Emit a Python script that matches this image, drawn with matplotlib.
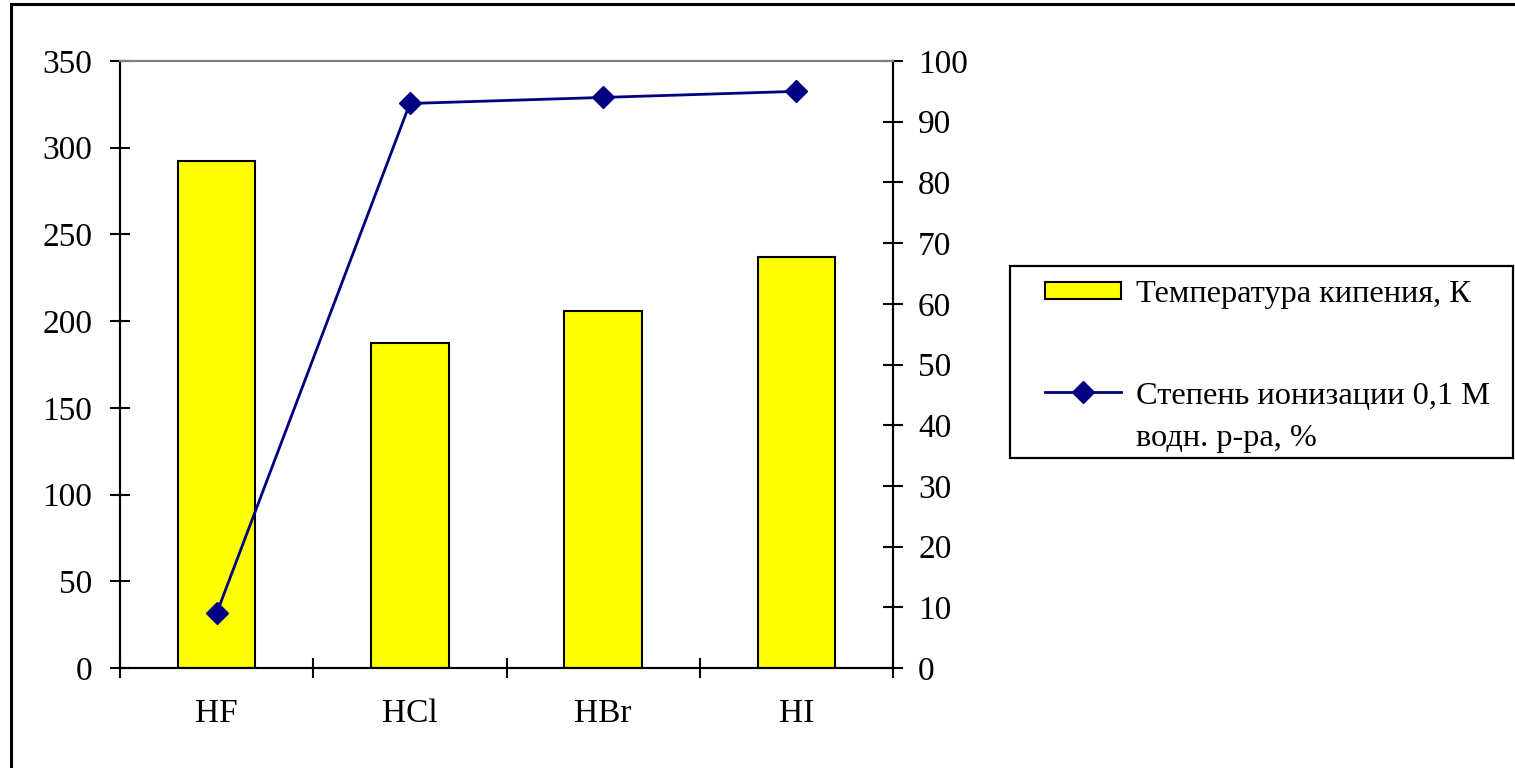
import matplotlib.pyplot as plt
from matplotlib.patches import Rectangle
from matplotlib.legend_handler import HandlerLine2D
import numpy as np

acids = ['HF', 'HCl', 'HBr', 'HI']
boiling_k = [292.4, 187.5, 206, 237]
ionization_pct = [9, 93, 94, 95]

plt.rcParams['font.family'] = ['Liberation Serif', 'DejaVu Serif']
fs = 24


class RaisedLine(HandlerLine2D):
    """Legend line handle lifted to sit beside the first line of a two-line label."""
    def __init__(self, shift, **kw):
        super().__init__(**kw)
        self.shift = shift

    def create_artists(self, legend, orig_handle, xdescent, ydescent, width,
                       height, fontsize, trans):
        arts = super().create_artists(legend, orig_handle, xdescent, ydescent,
                                      width, height, fontsize, trans)
        for a in arts:
            a.set_ydata(np.asarray(a.get_ydata()) + self.shift)
        return arts


fig = plt.figure(figsize=(15.15, 7.68), dpi=100)
ax = fig.add_axes([120/1515, 1 - 668/768, (893 - 120)/1515, (668 - 61)/768])
ax2 = ax.twinx()

x = np.arange(len(acids))
bars = ax.bar(x, boiling_k, width=0.4, color='#ffff00', edgecolor='black',
              linewidth=1.5, label='Температура кипения, К', zorder=2)
line, = ax2.plot(x, ionization_pct, color='#000080', lw=2, marker='D', ms=11.5,
                 label='Степень ионизации 0,1 М\nводн. р-ра, %')

ax.set_xlim(-0.5, 3.5)
ax.set_ylim(0, 350)
ax.set_yticks(np.arange(0, 351, 50))
ax2.set_ylim(0, 100)
ax2.set_yticks(np.arange(0, 101, 10))

ax.set_xticks(x)
ax.set_xticklabels(acids)
ax.set_xticks(np.arange(-0.5, 3.6, 1), minor=True)
ax.tick_params(axis='x', which='major', length=0, pad=22, labelsize=fs)
ax.tick_params(axis='x', which='minor', direction='inout', length=14, width=1.5)
ax.tick_params(axis='y', direction='inout', length=14, width=1.5, pad=13, labelsize=fs)
ax2.tick_params(axis='y', direction='inout', length=14, width=1.5, pad=11, labelsize=fs)

for a in (ax, ax2):
    for side in ('left', 'right', 'bottom'):
        a.spines[side].set_linewidth(1.5)
    a.spines['top'].set_color('#808080')
    a.spines['top'].set_linewidth(1.5)

leg = fig.legend(handles=[bars, line], loc='upper left',
                 bbox_to_anchor=(1045/1515, 1 - 280/768), borderaxespad=0,
                 borderpad=0, fontsize=23.3, frameon=False,
                 handlelength=2.35, handleheight=0.45, handletextpad=0.45,
                 labelspacing=2.25,
                 handler_map={line: RaisedLine(shift=19)})
for t in leg.get_texts():
    t.set_linespacing(1.6)

# legend frame
fig.patches.append(Rectangle((1010/1515, 1 - 458/768), 503/1515, 192/768,
                             transform=fig.transFigure, fill=False,
                             edgecolor='black', linewidth=1.6))

# chart area border
fig.patches.append(Rectangle((11/1515, -0.1), 1.2, 1.1 - 4/768, transform=fig.transFigure,
                             fill=False, edgecolor='black', linewidth=2.2))

fig.savefig('out.png', dpi=100)
